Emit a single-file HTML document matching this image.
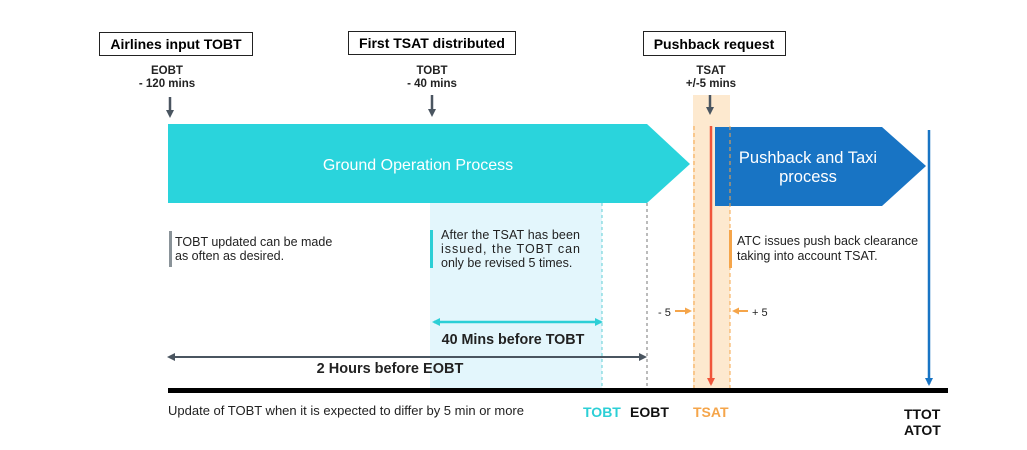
<!DOCTYPE html>
<html><head><style>body{margin:0;background:#fff}svg{display:block;font-family:"Liberation Sans",sans-serif}</style></head><body>
<svg width="1027" height="450" viewBox="0 0 1027 450">
<defs>
<marker id="ag" markerWidth="8" markerHeight="8" refX="4" refY="4" orient="auto" markerUnits="userSpaceOnUse"><path d="M0,0 L8,4 L0,8 z" fill="#4a5560"/></marker>
<marker id="ac" markerWidth="8" markerHeight="8" refX="6" refY="4" orient="auto-start-reverse" markerUnits="userSpaceOnUse"><path d="M0,0 L8,4 L0,8 z" fill="#2ccfd6"/></marker>
<marker id="ad" markerWidth="8" markerHeight="8" refX="6" refY="4" orient="auto-start-reverse" markerUnits="userSpaceOnUse"><path d="M0,0 L8,4 L0,8 z" fill="#4a5560"/></marker>
<marker id="ar" markerWidth="8" markerHeight="8" refX="6" refY="4" orient="auto" markerUnits="userSpaceOnUse"><path d="M0,0 L8,4 L0,8 z" fill="#f0553a"/></marker>
<marker id="ab" markerWidth="8" markerHeight="8" refX="6" refY="4" orient="auto" markerUnits="userSpaceOnUse"><path d="M0,0 L8,4 L0,8 z" fill="#1874c4"/></marker>
<marker id="ao" markerWidth="7" markerHeight="7" refX="5" refY="3.5" orient="auto" markerUnits="userSpaceOnUse"><path d="M0,0 L7,3.5 L0,7 z" fill="#f5a54a"/></marker>
</defs>
<rect x="430" y="203" width="172" height="185" fill="#e3f6fc"/>
<rect x="693" y="95" width="37" height="293" fill="#fde9cf"/>
<polygon points="168,124 647,124 690,164 647,203 168,203" fill="#2ad4dc"/>
<text x="418" y="170" font-size="16" fill="#fff" text-anchor="middle">Ground Operation Process</text>
<polygon points="715,127 882,127 926,166 882,206 715,206" fill="#1874c4"/>
<text x="808" y="163" font-size="16.5" fill="#fff" text-anchor="middle">Pushback and Taxi</text>
<text x="808" y="182" font-size="16.5" fill="#fff" text-anchor="middle">process</text>
<rect x="99.5" y="32.5" width="153" height="23" fill="#fff" stroke="#222"/>
<text x="176" y="49" font-size="14" font-weight="bold" text-anchor="middle">Airlines input TOBT</text>
<rect x="348.5" y="31.5" width="167" height="23" fill="#fff" stroke="#222"/>
<text x="432" y="48" font-size="14" font-weight="bold" text-anchor="middle">First TSAT distributed</text>
<rect x="643.5" y="31.5" width="142" height="24" fill="#fff" stroke="#222"/>
<text x="714" y="49" font-size="14" font-weight="bold" text-anchor="middle">Pushback request</text>
<g font-size="11.5" font-weight="bold" fill="#222" text-anchor="middle">
<text x="167" y="74">EOBT</text><text x="167" y="87">- 120 mins</text>
<text x="432" y="74">TOBT</text><text x="432" y="87">- 40 mins</text>
<text x="711" y="74">TSAT</text><text x="711" y="87">+/-5 mins</text>
</g>
<line x1="170" y1="97" x2="170" y2="114" stroke="#4a5560" stroke-width="2.5" marker-end="url(#ag)"/>
<line x1="432" y1="95" x2="432" y2="113" stroke="#4a5560" stroke-width="2.5" marker-end="url(#ag)"/>
<line x1="710" y1="95" x2="710" y2="111" stroke="#4a5560" stroke-width="2.5" marker-end="url(#ag)"/>
<line x1="694" y1="126" x2="694" y2="388" stroke="#f5a54a" stroke-dasharray="4,3"/>
<line x1="730" y1="126" x2="730" y2="388" stroke="#f5a54a" stroke-dasharray="4,3"/>
<line x1="711" y1="126" x2="711" y2="384" stroke="#f0553a" stroke-width="2.5" marker-end="url(#ar)"/>
<line x1="929" y1="130" x2="929" y2="384" stroke="#1874c4" stroke-width="2.5" marker-end="url(#ab)"/>
<line x1="647" y1="203" x2="647" y2="388" stroke="#777" stroke-dasharray="3,3"/>
<line x1="602" y1="203" x2="602" y2="388" stroke="#5fcfd6" stroke-dasharray="3,3"/>
<rect x="169" y="231" width="3" height="36" fill="#8a9399"/>
<rect x="430" y="230" width="3" height="38" fill="#2ccfd6"/>
<rect x="729" y="230" width="3" height="38" fill="#f5a54a"/>
<g font-size="12.5" fill="#222">
<text x="175" y="246">TOBT updated can be made</text><text x="175" y="260">as often as desired.</text>
<text x="441" y="239" textLength="139" lengthAdjust="spacing">After the TSAT has been</text><text x="441" y="253" textLength="139" lengthAdjust="spacing">issued, the TOBT can</text><text x="441" y="267">only be revised 5 times.</text>
<text x="737" y="245">ATC issues push back clearance</text><text x="737" y="260">taking into account TSAT.</text>
<text x="168" y="415" font-size="13">Update of TOBT when it is expected to differ by 5 min or more</text>
</g>
<text x="658" y="316" font-size="11" fill="#222">- 5</text>
<line x1="675" y1="311" x2="690" y2="311" stroke="#f5a54a" stroke-width="2" marker-end="url(#ao)"/>
<line x1="748" y1="311" x2="734" y2="311" stroke="#f5a54a" stroke-width="2" marker-end="url(#ao)"/>
<text x="752" y="316" font-size="11" fill="#222">+ 5</text>
<line x1="434" y1="322" x2="601" y2="322" stroke="#2ccfd6" stroke-width="2.5" marker-start="url(#ac)" marker-end="url(#ac)"/>
<text x="513" y="344" font-size="14.3" font-weight="bold" text-anchor="middle" fill="#222">40 Mins before TOBT</text>
<line x1="169" y1="357" x2="645" y2="357" stroke="#4a5560" stroke-width="2" marker-start="url(#ad)" marker-end="url(#ad)"/>
<text x="390" y="373" font-size="14.5" font-weight="bold" text-anchor="middle" fill="#222">2 Hours before EOBT</text>
<rect x="168" y="388" width="780" height="5" fill="#000"/>
<g font-size="14" font-weight="bold">
<text x="583" y="417" fill="#2ccfd6">TOBT</text>
<text x="630" y="417" fill="#111">EOBT</text>
<text x="693" y="417" fill="#f5a54a">TSAT</text>
<text x="904" y="419" fill="#111">TTOT</text>
<text x="904" y="435" fill="#111">ATOT</text>
</g>
</svg>
</body></html>
